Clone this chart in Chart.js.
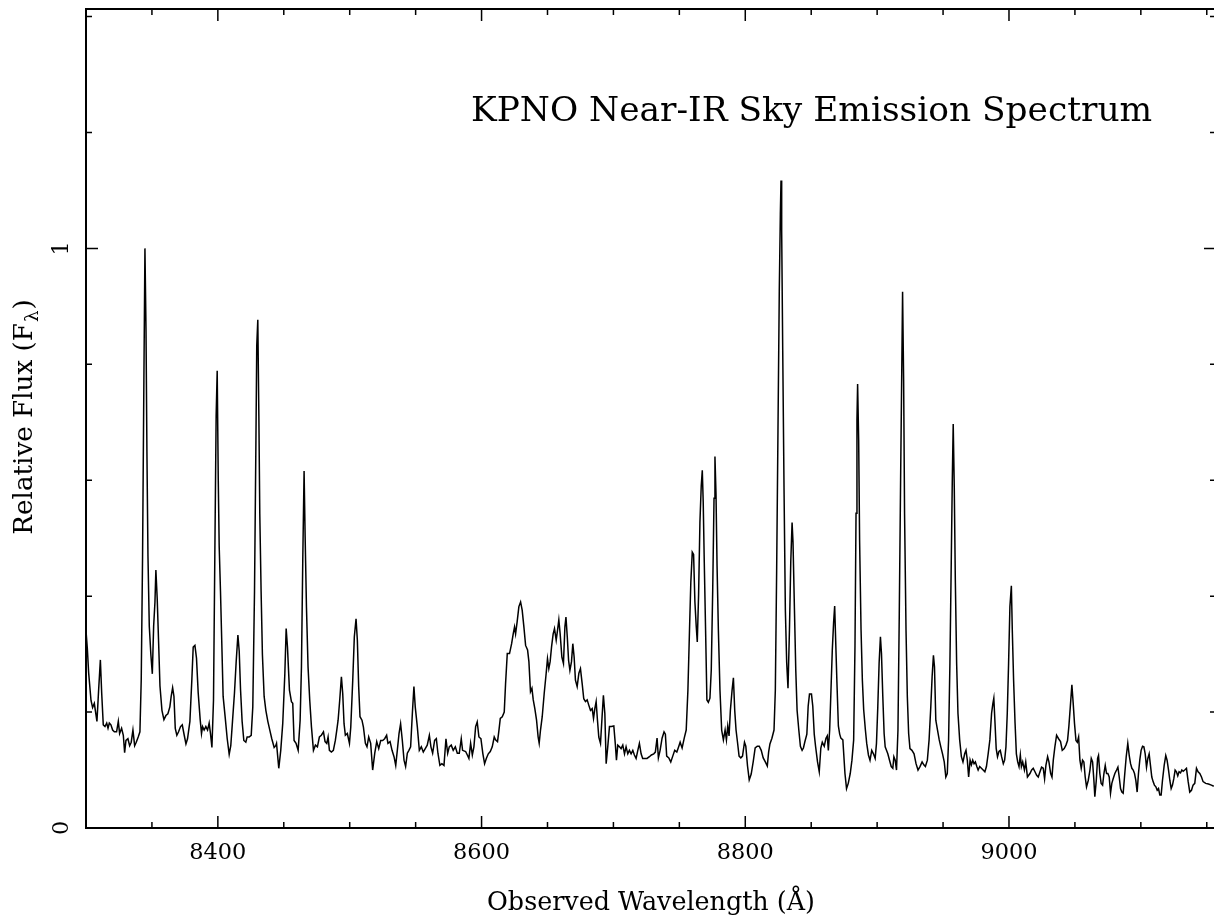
<!DOCTYPE html>
<html>
<head>
<meta charset="utf-8">
<title>KPNO Near-IR Sky Emission Spectrum</title>
<script src="https://cdn.jsdelivr.net/npm/chart.js@4/dist/chart.umd.min.js"></script>
<style>
  html, body { margin: 0; padding: 0; background: #fff; overflow: hidden; }
  #wrap { position: absolute; left: 0; top: 0; width: 1232px; height: 916px; }
</style>
</head>
<body>
<div id="wrap"><canvas id="spec"></canvas></div>
<script>
// Observed wavelength (Angstrom) of each sample
const wavelength = [
  8300.0, 8301.0, 8302.0, 8303.8, 8305.0, 8306.3, 8308.3, 8309.6, 8310.9, 8311.9, 8313.1, 8314.4, 8315.7, 8316.7,
  8317.7, 8318.9, 8320.2, 8321.5, 8323.2, 8324.5, 8325.5, 8327.0, 8328.3, 8329.3, 8330.3, 8331.8, 8333.1, 8334.3,
  8335.6, 8336.9, 8338.1, 8339.6, 8340.9, 8341.9, 8342.9, 8343.9, 8344.7, 8345.5, 8346.2, 8347.0, 8348.0, 8349.2,
  8350.3, 8351.3, 8352.3, 8353.0, 8354.0, 8355.1, 8356.1, 8357.6, 8359.1, 8360.6, 8362.1, 8363.6, 8364.6, 8365.7,
  8366.7, 8367.7, 8368.9, 8370.2, 8371.7, 8373.0, 8374.5, 8375.8, 8377.0, 8378.8, 8380.3, 8381.3, 8382.6, 8383.8,
  8385.1, 8386.6, 8387.6, 8388.4, 8389.6, 8390.9, 8392.2, 8393.4, 8394.4, 8395.5, 8396.7, 8397.7, 8398.7, 8399.5,
  8400.3, 8401.0, 8402.0, 8403.0, 8404.0, 8405.6, 8407.1, 8408.6, 8409.8, 8411.1, 8412.6, 8413.9, 8415.2, 8416.2,
  8417.2, 8418.4, 8419.7, 8421.2, 8422.2, 8423.7, 8425.3, 8426.5, 8427.8, 8428.8, 8429.5, 8430.3, 8431.1, 8431.8,
  8432.8, 8433.8, 8435.1, 8436.4, 8437.9, 8439.4, 8440.9, 8442.7, 8443.9,
  8444.5, 8446.2, 8447.7, 8449.2, 8450.8, 8451.8, 8452.8, 8454.3, 8455.8, 8456.8, 8457.8, 8459.3, 8460.9, 8462.4,
  8463.4, 8464.4, 8465.4, 8466.2, 8467.2, 8468.4, 8469.7, 8471.0, 8472.5, 8474.0, 8475.5, 8477.0, 8478.5, 8480.1,
  8481.3, 8482.6, 8483.6, 8484.6, 8486.1, 8487.6, 8489.1, 8490.2, 8491.2, 8492.4, 8493.7, 8494.7, 8495.7, 8496.7,
  8498.2, 8499.8, 8500.8, 8502.3, 8503.5, 8504.8, 8505.8, 8506.8, 8507.8, 8509.3, 8510.4, 8511.9, 8513.1, 8514.4,
  8515.9, 8517.4, 8519.0, 8520.5, 8522.0, 8523.5, 8525.0, 8526.5, 8528.0, 8529.0, 8530.6, 8532.1, 8533.6, 8534.9,
  8536.1, 8537.4, 8538.6, 8539.9, 8541.2, 8542.4, 8543.7, 8544.9, 8546.2, 8547.5, 8548.7, 8549.7, 8551.3, 8552.8,
  8554.3, 8555.8, 8557.3, 8558.8, 8560.4, 8561.6, 8562.9, 8564.4, 8565.7, 8566.9, 8568.4, 8569.9, 8571.5, 8573.0,
  8574.3, 8575.5, 8577.0, 8578.5, 8580.1, 8581.6, 8583.1, 8584.6, 8585.6,
  8587.9, 8589.2, 8590.4, 8591.7, 8593.0, 8594.2, 8595.5, 8596.7, 8598.0, 8599.5, 8601.0, 8602.3, 8603.6, 8605.1,
  8606.6, 8608.1, 8609.6, 8610.6, 8612.1, 8613.2, 8614.2, 8615.7, 8617.2, 8618.2, 8619.5, 8621.2, 8622.8, 8624.0,
  8625.0, 8625.8, 8627.0, 8628.3, 8629.6, 8630.8, 8632.1, 8633.4, 8634.9, 8635.9, 8637.1, 8638.2, 8639.2, 8640.4,
  8641.7, 8642.9, 8643.7, 8644.7, 8646.0, 8647.5, 8649.0, 8650.0, 8651.0, 8652.0, 8653.1, 8654.3, 8655.3, 8656.6,
  8657.6, 8658.6, 8659.6, 8660.9, 8662.1, 8663.2, 8664.0, 8665.0, 8666.0, 8667.0, 8668.2, 8669.2, 8670.2, 8671.2,
  8672.5, 8673.8, 8675.0, 8676.3, 8677.5, 8678.8, 8680.1, 8681.3, 8682.6, 8683.9, 8684.9, 8685.9, 8686.9, 8687.9,
  8688.9, 8690.2, 8691.4, 8692.4, 8693.5, 8694.5, 8695.7, 8697.0, 8698.5, 8700.3, 8701.5, 8702.3, 8703.3, 8704.6,
  8705.8, 8707.1, 8708.4, 8709.6, 8710.9, 8712.1, 8713.4, 8714.7, 8715.9, 8717.2, 8718.5, 8719.7, 8721.0, 8722.2,
  8723.8, 8725.5, 8727.3, 8728.8, 8730.6,
  8731.8, 8733.1, 8734.1, 8735.4, 8736.9, 8738.4, 8739.4, 8740.4, 8742.0, 8743.5, 8745.0, 8746.5, 8748.1, 8749.6,
  8750.6, 8752.1, 8753.7, 8755.2, 8756.5, 8757.7, 8758.7, 8759.8, 8760.8, 8761.8, 8762.8, 8763.6, 8764.6, 8765.6,
  8766.6, 8767.4, 8768.1, 8768.9, 8769.9, 8770.9, 8772.0, 8773.2, 8774.2, 8775.3, 8776.3, 8777.0, 8777.8, 8778.6,
  8779.6, 8780.8, 8782.1, 8783.4, 8784.7, 8785.7, 8786.7, 8787.7, 8788.7, 8790.0, 8791.0, 8792.0, 8793.0, 8794.1,
  8795.3, 8796.6, 8797.9, 8799.4, 8800.4, 8801.7, 8803.0, 8804.5, 8806.0, 8807.5, 8809.1, 8810.6, 8812.1, 8813.6,
  8815.2, 8816.7, 8817.7, 8818.7, 8820.2, 8821.8, 8822.8, 8823.8, 8824.8, 8825.8, 8826.6, 8827.1, 8827.6, 8828.4,
  8829.4, 8830.4, 8831.4, 8832.4, 8833.5, 8834.5, 8835.5, 8836.2, 8837.3, 8838.3, 8839.3, 8840.6, 8841.8, 8843.1,
  8844.1, 8845.1, 8846.7, 8847.7, 8848.7, 8850.2, 8851.2, 8852.3, 8853.3, 8854.8, 8856.1, 8857.3, 8858.4, 8859.9,
  8861.2, 8862.2, 8863.0, 8864.0, 8865.0, 8866.0, 8867.0, 8867.8, 8868.5, 8869.5, 8870.6, 8871.6,
  8872.5, 8874.0, 8875.6, 8876.8, 8878.1, 8879.6, 8880.9, 8882.2, 8883.2, 8884.0, 8884.7, 8885.2, 8886.0, 8886.7,
  8887.8, 8888.8, 8889.8, 8891.1, 8892.1, 8893.4, 8894.6, 8895.9, 8897.2, 8898.5, 8899.5, 8900.5, 8901.5, 8902.5,
  8903.3, 8904.3, 8905.3, 8906.1, 8907.1, 8908.1, 8909.4, 8910.7, 8911.9, 8912.7, 8913.7, 8914.7, 8915.8, 8916.8,
  8917.8, 8918.6, 8919.3, 8920.1, 8920.8, 8921.9, 8922.9, 8923.9, 8924.9, 8926.4, 8928.0, 8929.5, 8931.0, 8932.5,
  8934.1, 8935.4, 8936.6, 8938.1, 8939.4, 8940.7, 8941.7, 8942.7, 8943.5, 8944.5, 8945.8, 8947.1, 8948.3, 8949.6,
  8950.9, 8952.1, 8953.2, 8954.2, 8955.2, 8956.2, 8957.0, 8957.7, 8958.5, 8959.3, 8960.3, 8961.3, 8962.6, 8963.9,
  8965.1, 8966.4, 8967.4, 8968.4, 8969.4, 8970.5, 8971.5, 8972.5, 8973.5, 8974.5, 8975.6, 8976.6, 8977.8, 8979.1,
  8980.4, 8981.7, 8982.9, 8984.2, 8985.5, 8986.8, 8987.8, 8988.5, 8989.3, 8990.3, 8991.3, 8992.4, 8993.4, 8994.4,
  8995.7, 8996.7, 8997.7, 8998.7, 8999.7, 9000.7, 9001.8, 9002.5, 9003.5, 9004.6, 9005.6, 9006.6, 9007.6, 9008.6,
  9009.4, 9010.4, 9011.7, 9012.7, 9014.0,
  9015.9, 9017.2, 9018.4, 9019.7, 9021.0, 9022.2, 9023.5, 9024.7, 9026.0, 9027.0, 9028.0, 9029.3, 9030.3, 9031.6,
  9032.6, 9033.6, 9034.8, 9036.1, 9037.6, 9039.1, 9040.4, 9041.9, 9043.2, 9044.4, 9045.4, 9046.5, 9047.7, 9048.7,
  9049.7, 9050.8, 9051.8, 9052.8, 9053.8, 9054.8, 9055.8, 9056.8, 9057.8, 9058.8, 9060.1, 9061.4, 9062.4, 9063.4,
  9064.4, 9065.1, 9066.2, 9067.2, 9067.9, 9068.9, 9069.9, 9071.0, 9072.0, 9073.0, 9074.0, 9075.0, 9076.0, 9077.0,
  9078.0, 9079.0, 9080.3, 9081.6, 9082.6, 9083.6, 9084.6, 9085.6, 9086.6, 9087.6, 9088.9, 9090.1, 9091.2, 9092.2,
  9093.2, 9094.2, 9095.2, 9096.2, 9097.2, 9098.2, 9099.2, 9100.2, 9101.3, 9102.3, 9103.3, 9104.3, 9105.3, 9106.3,
  9107.3, 9108.3, 9109.3, 9110.3, 9111.4, 9112.4, 9113.4, 9114.4, 9115.4, 9116.4, 9117.7, 9118.9, 9119.9, 9121.0,
  9122.0, 9123.0, 9124.0, 9125.0, 9126.0, 9127.0, 9128.0, 9129.0, 9130.1, 9131.1, 9132.1, 9133.3, 9134.6, 9135.9,
  9137.1, 9138.4, 9139.6, 9140.9, 9142.2, 9143.4, 9144.7, 9146.0, 9147.2, 9149.2, 9151.3, 9153.5, 9155.3
];

// Relative flux F_lambda at each wavelength above
const flux = [
  0.340, 0.310, 0.268, 0.220, 0.208, 0.215, 0.184, 0.239, 0.290, 0.233, 0.178, 0.175, 0.181, 0.172,
  0.181, 0.178, 0.169, 0.166, 0.166, 0.184, 0.163, 0.172, 0.160, 0.130, 0.151, 0.154, 0.142, 0.148,
  0.169, 0.142, 0.148, 0.157, 0.166, 0.257, 0.469, 0.771, 1.000, 0.862, 0.650, 0.469, 0.348, 0.299,
  0.266, 0.348, 0.390, 0.445, 0.396, 0.318, 0.245, 0.203, 0.187, 0.194, 0.197, 0.209, 0.227, 0.242,
  0.227, 0.172, 0.160, 0.166, 0.175, 0.178, 0.160, 0.145, 0.154, 0.184, 0.257, 0.312, 0.315, 0.293,
  0.233, 0.187, 0.163, 0.175, 0.169, 0.175, 0.169, 0.181, 0.163, 0.139, 0.221, 0.469, 0.711, 0.789,
  0.602, 0.487, 0.408, 0.318, 0.227, 0.190, 0.154, 0.127, 0.142, 0.184, 0.233, 0.287, 0.333, 0.305,
  0.239, 0.184, 0.151, 0.148, 0.157, 0.157, 0.160, 0.209, 0.408, 0.650, 0.832, 0.877, 0.711, 0.542,
  0.408, 0.299, 0.227, 0.203, 0.184, 0.169, 0.154, 0.139, 0.142,
  0.146, 0.103, 0.134, 0.180, 0.266, 0.344, 0.312, 0.238, 0.218, 0.215, 0.151, 0.146, 0.134, 0.186,
  0.278, 0.462, 0.616, 0.502, 0.381, 0.278, 0.220, 0.174, 0.134, 0.143, 0.140, 0.157, 0.160, 0.166,
  0.149, 0.146, 0.157, 0.134, 0.131, 0.134, 0.151, 0.169, 0.186, 0.220, 0.261, 0.232, 0.180, 0.160,
  0.163, 0.146, 0.174, 0.255, 0.330, 0.361, 0.324, 0.244, 0.192, 0.186, 0.174, 0.146, 0.140, 0.157,
  0.146, 0.100, 0.129, 0.149, 0.137, 0.151, 0.151, 0.154, 0.160, 0.146, 0.149, 0.134, 0.123, 0.108,
  0.134, 0.163, 0.180, 0.151, 0.117, 0.106, 0.129, 0.134, 0.140, 0.197, 0.244, 0.209, 0.174, 0.134,
  0.140, 0.131, 0.137, 0.143, 0.160, 0.140, 0.129, 0.151, 0.154, 0.129, 0.108, 0.111, 0.108, 0.154,
  0.129, 0.140, 0.143, 0.134, 0.140, 0.129, 0.129, 0.154, 0.134,
  0.132, 0.126, 0.120, 0.146, 0.126, 0.140, 0.175, 0.183, 0.157, 0.154, 0.128, 0.111, 0.120, 0.128,
  0.132, 0.140, 0.157, 0.152, 0.149, 0.169, 0.189, 0.192, 0.200, 0.249, 0.301, 0.301, 0.318, 0.335,
  0.347, 0.335, 0.356, 0.382, 0.390, 0.376, 0.347, 0.315, 0.307, 0.287, 0.235, 0.241, 0.221, 0.206,
  0.186, 0.157, 0.146, 0.169, 0.192, 0.232, 0.267, 0.292, 0.275, 0.287, 0.313, 0.335, 0.344, 0.324,
  0.341, 0.359, 0.335, 0.295, 0.284, 0.347, 0.364, 0.330, 0.289, 0.272, 0.287, 0.318, 0.295, 0.255,
  0.244, 0.267, 0.275, 0.249, 0.223, 0.218, 0.221, 0.212, 0.203, 0.206, 0.189, 0.206, 0.218, 0.186,
  0.157, 0.146, 0.192, 0.229, 0.197, 0.111, 0.140, 0.175, 0.175, 0.176, 0.143, 0.117, 0.143, 0.140,
  0.137, 0.143, 0.128, 0.140, 0.128, 0.134, 0.128, 0.134, 0.126, 0.120, 0.134, 0.146, 0.128, 0.120,
  0.120, 0.120, 0.123, 0.126, 0.128,
  0.131, 0.155, 0.121, 0.134, 0.155, 0.166, 0.162, 0.124, 0.121, 0.114, 0.124, 0.134, 0.131, 0.141,
  0.148, 0.138, 0.155, 0.169, 0.238, 0.341, 0.424, 0.476, 0.472, 0.390, 0.348, 0.321, 0.403, 0.527,
  0.590, 0.617, 0.562, 0.459, 0.341, 0.221, 0.217, 0.224, 0.272, 0.410, 0.569, 0.641, 0.576, 0.452,
  0.341, 0.238, 0.169, 0.152, 0.169, 0.152, 0.176, 0.159, 0.203, 0.238, 0.259, 0.203, 0.169, 0.148,
  0.124, 0.121, 0.124, 0.148, 0.141, 0.107, 0.083, 0.093, 0.114, 0.138, 0.141, 0.141, 0.134, 0.121,
  0.114, 0.107, 0.131, 0.145, 0.155, 0.169, 0.238, 0.445, 0.686, 0.928, 1.059, 1.117, 1.031, 0.824,
  0.583, 0.376, 0.286, 0.241, 0.341, 0.459, 0.527, 0.493, 0.376, 0.272, 0.203, 0.169, 0.141, 0.134,
  0.138, 0.148, 0.162, 0.210, 0.231, 0.231, 0.210, 0.162, 0.141, 0.114, 0.097, 0.138, 0.148, 0.141,
  0.155, 0.159, 0.134, 0.169, 0.238, 0.307, 0.355, 0.383, 0.328, 0.252, 0.176, 0.162,
  0.155, 0.152, 0.094, 0.068, 0.077, 0.094, 0.117, 0.152, 0.313, 0.543, 0.704, 0.766, 0.669, 0.497,
  0.342, 0.255, 0.204, 0.169, 0.146, 0.126, 0.117, 0.134, 0.128, 0.120, 0.146, 0.209, 0.284, 0.330,
  0.301, 0.227, 0.163, 0.140, 0.134, 0.128, 0.117, 0.106, 0.103, 0.123, 0.117, 0.100, 0.169, 0.370,
  0.600, 0.772, 0.925, 0.772, 0.543, 0.342, 0.227, 0.163, 0.137, 0.134, 0.128, 0.111, 0.100, 0.106,
  0.114, 0.109, 0.106, 0.117, 0.152, 0.209, 0.261, 0.298, 0.278, 0.186, 0.169, 0.152, 0.140, 0.128,
  0.114, 0.088, 0.094, 0.152, 0.284, 0.456, 0.600, 0.697, 0.588, 0.428, 0.284, 0.198, 0.152, 0.123,
  0.114, 0.128, 0.134, 0.117, 0.088, 0.117, 0.109, 0.117, 0.111, 0.114, 0.106, 0.100, 0.106, 0.103,
  0.100, 0.097, 0.106, 0.128, 0.152, 0.198, 0.215, 0.224, 0.186, 0.137, 0.123, 0.132, 0.134, 0.123,
  0.111, 0.117, 0.140, 0.198, 0.284, 0.382, 0.418, 0.342, 0.255, 0.181, 0.128, 0.114, 0.106, 0.126,
  0.106, 0.114, 0.100, 0.114, 0.088,
  0.094, 0.100, 0.103, 0.097, 0.091, 0.088, 0.097, 0.105, 0.103, 0.085, 0.108, 0.123, 0.114, 0.094,
  0.088, 0.117, 0.140, 0.160, 0.154, 0.149, 0.134, 0.137, 0.143, 0.151, 0.175, 0.209, 0.247, 0.215,
  0.180, 0.151, 0.148, 0.157, 0.117, 0.103, 0.117, 0.114, 0.088, 0.071, 0.082, 0.100, 0.120, 0.114,
  0.082, 0.054, 0.082, 0.120, 0.125, 0.094, 0.077, 0.074, 0.094, 0.108, 0.094, 0.094, 0.088, 0.060,
  0.077, 0.085, 0.094, 0.100, 0.105, 0.088, 0.068, 0.062, 0.060, 0.088, 0.123, 0.146, 0.125, 0.111,
  0.103, 0.100, 0.094, 0.082, 0.062, 0.094, 0.117, 0.134, 0.141, 0.140, 0.128, 0.105, 0.120, 0.128,
  0.108, 0.088, 0.080, 0.074, 0.071, 0.065, 0.068, 0.057, 0.057, 0.082, 0.108, 0.125, 0.117, 0.100,
  0.082, 0.068, 0.074, 0.085, 0.100, 0.097, 0.090, 0.097, 0.095, 0.100, 0.098, 0.100, 0.103, 0.080,
  0.062, 0.065, 0.074, 0.077, 0.103, 0.097, 0.094, 0.088, 0.080, 0.077, 0.076, 0.074, 0.072
];

// Axis ranges and tick layout
const xRange = [8300, 9157];
const yRange = [0, 1.413];
const xMajorTicks = [8400, 8600, 8800, 9000];
const xMinorStep = 50;
const yMajorTicks = [0, 1];
const yMinorStep = 0.2;

// Text drawn on the figure
const chartTitle = 'KPNO Near-IR Sky Emission Spectrum';
const xAxisTitle = 'Observed Wavelength (\u00C5)';
const yAxisTitle = ['Relative Flux (F', '\u03BB', ')'];

const FAMILY = '"DejaVu Serif", "Liberation Serif", serif';

// font size (px) that makes a string span the given width
function fitSize(ctx, text, width) {
  ctx.font = '100px ' + FAMILY;
  return 100 * width / ctx.measureText(text).width;
}

// Frame, inward ticks, labels and titles, drawn from the chart's own scales
const framePlugin = {
  id: 'frame',
  afterDraw(chart) {
    const { ctx, chartArea: a, scales: { x, y } } = chart;
    ctx.save();
    ctx.strokeStyle = '#000';
    ctx.fillStyle = '#000';
    ctx.lineWidth = 2;
    ctx.strokeRect(a.left, a.top, a.right - a.left, a.bottom - a.top);

    ctx.lineWidth = 1.5;
    ctx.beginPath();
    for (let v = xRange[0]; v <= xRange[1] + 1e-6; v += xMinorStep) {
      const px = x.getPixelForValue(v);
      const len = xMajorTicks.includes(v) ? 12 : 6;
      ctx.moveTo(px, a.bottom); ctx.lineTo(px, a.bottom - len);
      ctx.moveTo(px, a.top); ctx.lineTo(px, a.top + len);
    }
    for (let i = 0; i * yMinorStep <= yRange[1] + 1e-6; i++) {
      const v = Math.round(i * yMinorStep * 10) / 10;
      const py = y.getPixelForValue(v);
      const len = yMajorTicks.includes(v) ? 12 : 6;
      ctx.moveTo(a.left, py); ctx.lineTo(a.left + len, py);
      ctx.moveTo(a.right, py); ctx.lineTo(a.right - len, py);
    }
    ctx.stroke();

    // x tick labels
    const tickSize = fitSize(ctx, '8400', 57);
    ctx.font = tickSize.toFixed(1) + 'px ' + FAMILY;
    ctx.textAlign = 'center';
    ctx.textBaseline = 'alphabetic';
    xMajorTicks.forEach(v => ctx.fillText(String(v), x.getPixelForValue(v), a.bottom + 31));

    // y tick labels, rotated to read upward
    yMajorTicks.forEach(v => {
      ctx.save();
      ctx.translate(a.left - 18, y.getPixelForValue(v));
      ctx.rotate(-Math.PI / 2);
      ctx.fillText(String(v), 0, 0);
      ctx.restore();
    });

    // x axis title
    const xtSize = fitSize(ctx, xAxisTitle, 328);
    ctx.font = xtSize.toFixed(1) + 'px ' + FAMILY;
    ctx.fillText(xAxisTitle, 651, a.bottom + 82);

    // y axis title with subscript lambda
    ctx.save();
    ctx.translate(32, 418);
    ctx.rotate(-Math.PI / 2);
    ctx.textAlign = 'left';
    const ms = fitSize(ctx, yAxisTitle[0] + ')', 222);
    const mainFont = ms.toFixed(1) + 'px ' + FAMILY;
    const subFont = (ms * 0.7).toFixed(1) + 'px ' + FAMILY;
    ctx.font = mainFont; const w1 = ctx.measureText(yAxisTitle[0]).width;
    ctx.font = subFont; const w2 = ctx.measureText(yAxisTitle[1]).width;
    ctx.font = mainFont; const w3 = ctx.measureText(yAxisTitle[2]).width;
    let cx = -(w1 + w2 + w3) / 2;
    ctx.font = mainFont; ctx.fillText(yAxisTitle[0], cx, 0); cx += w1;
    ctx.font = subFont; ctx.fillText(yAxisTitle[1], cx + 1, 6); cx += w2 + 2;
    ctx.font = mainFont; ctx.fillText(yAxisTitle[2], cx, 0);
    ctx.restore();

    // chart title inside the plot
    const tSize = fitSize(ctx, chartTitle, 682);
    ctx.font = tSize.toFixed(1) + 'px ' + FAMILY;
    ctx.textAlign = 'left';
    ctx.fillText(chartTitle, 471, 121);
    ctx.restore();
  }
};

new Chart(document.getElementById('spec'), {
  type: 'line',
  data: {
    datasets: [{
      data: wavelength.map((w, i) => ({ x: w, y: flux[i] })),
      borderColor: '#000',
      borderWidth: 1.5,
      pointRadius: 0,
      tension: 0,
      fill: false
    }]
  },
  options: {
    responsive: true,
    maintainAspectRatio: false,
    animation: false,
    events: [],
    layout: { padding: { left: 86, top: 9, right: 16, bottom: 88 } },
    plugins: { legend: { display: false }, tooltip: { enabled: false }, title: { display: false } },
    scales: {
      x: { type: 'linear', display: false, min: xRange[0], max: xRange[1] },
      y: { type: 'linear', display: false, min: yRange[0], max: yRange[1] }
    }
  },
  plugins: [framePlugin]
});
</script>
</body>
</html>
